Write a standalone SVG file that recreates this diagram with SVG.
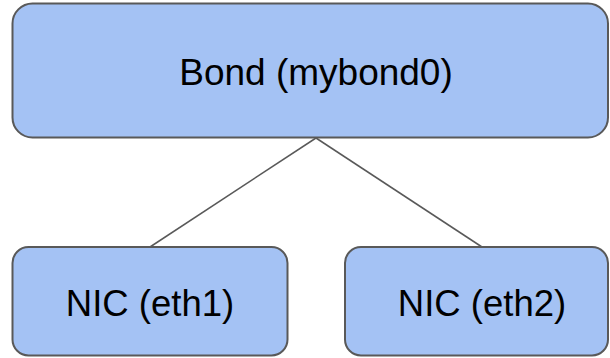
<svg xmlns="http://www.w3.org/2000/svg" width="610" height="358" viewBox="0 0 610 358">
<style>
.box{fill:#a4c2f4;stroke:#595959;stroke-width:2}
.lbl{font-family:"Liberation Sans",Arial,sans-serif;font-size:36.5px;fill:#000;text-anchor:middle}
.con{stroke:#595959;stroke-width:1.5;fill:none}
</style>
<rect width="610" height="358" fill="#fff"/>
<g id="connectors">
<line class="con" x1="316" y1="138" x2="150" y2="247"/>
<line class="con" x1="316" y1="138" x2="482" y2="247"/>
</g>
<g id="bond">
<rect class="box" x="12.5" y="3.5" width="595.5" height="134" rx="20"/>
<text class="lbl" x="316" y="85" style="font-size:37px">Bond (mybond0)</text>
</g>
<g id="eth1">
<rect class="box" x="12.5" y="247" width="275" height="108.5" rx="16"/>
<text class="lbl" x="150" y="316">NIC (eth1)</text>
</g>
<g id="eth2">
<rect class="box" x="345" y="247" width="263" height="108.5" rx="16"/>
<text class="lbl" x="482" y="316">NIC (eth2)</text>
</g>
</svg>
